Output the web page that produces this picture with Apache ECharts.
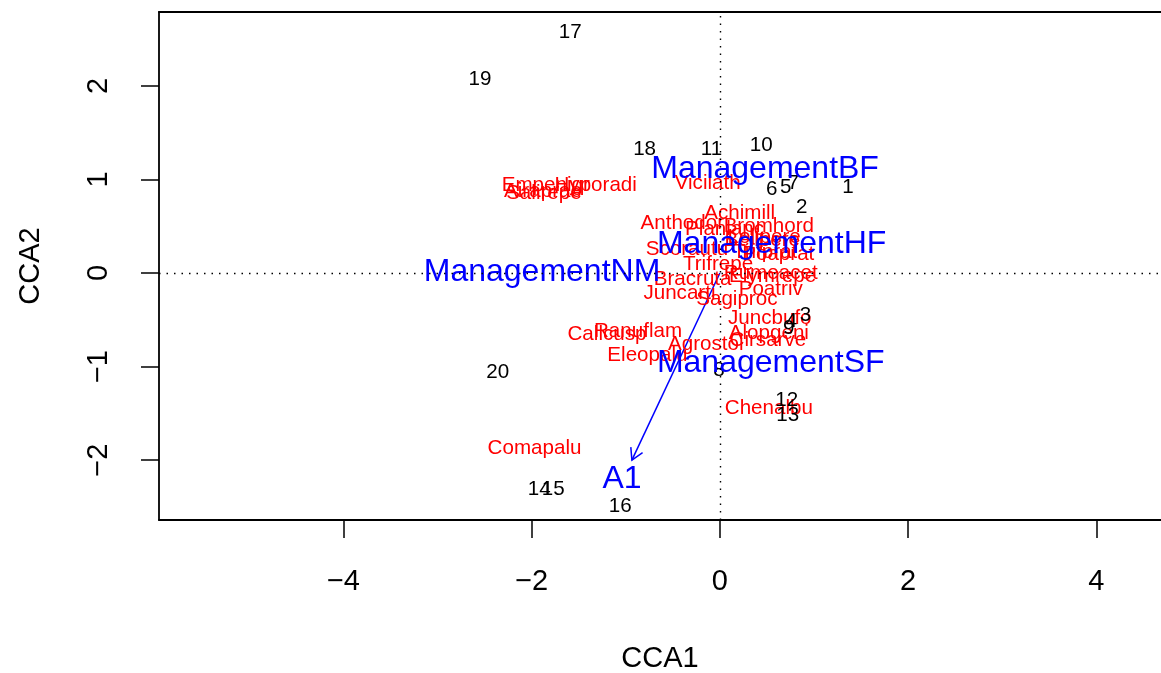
<!DOCTYPE html>
<html>
<head>
<meta charset="utf-8">
<script src="https://cdn.jsdelivr.net/npm/echarts@6/dist/echarts.min.js"></script>
<style>
  html, body { margin: 0; padding: 0; background: #ffffff; }
  #chart { width: 1161px; height: 673px; }
</style>
</head>
<body>
<div id="chart"></div>
<script>
// Site scores (weighted averages), CCA1 / CCA2
const siteNames = ['1','2','3','4','5','6','7','8','9','10','11','12','13','14','15','16','17','18','19','20'];
const siteX = [1.36, 0.87, 0.91, 0.76, 0.70, 0.55, 0.78, -0.01, 0.73, 0.44, -0.09, 0.71, 0.72, -1.92, -1.77, -1.06, -1.59, -0.80, -2.55, -2.36];
const siteY = [0.93, 0.72, -0.44, -0.50, 0.93, 0.91, 0.97, -1.02, -0.57, 1.38, 1.34, -1.34, -1.51, -2.30, -2.30, -2.48, 2.59, 1.34, 2.09, -1.04];

// Species scores
const speciesNames = ['Achimill','Agrostol','Airaprae','Alopgeni','Anthodor','Bellpere','Bromhord','Chenalbu','Cirsarve','Comapalu',
  'Eleopalu','Elymrepe','Empenigr','Hyporadi','Juncarti','Juncbufo','Lolipere','Planlanc','Poaprat','Poatriv',
  'Ranuflam','Rumeacet','Sagiproc','Salirepe','Scorautu','Trifprat','Trifrepe','Vicilath','Bracruta','Callcusp'];
const speciesX = [0.21, -0.15, -1.88, 0.52, -0.40, 0.45, 0.52, 0.52, 0.51, -1.97,
  -0.77, 0.56, -1.85, -1.32, -0.43, 0.53, 0.47, 0.05, 0.62, 0.54,
  -0.87, 0.54, 0.18, -1.87, -0.35, 0.48, -0.02, -0.13, -0.29, -1.20];
const speciesY = [0.65, -0.75, 0.89, -0.63, 0.55, 0.37, 0.51, -1.43, -0.70, -1.86,
  -0.86, -0.02, 0.95, 0.95, -0.20, -0.47, 0.40, 0.48, 0.22, -0.16,
  -0.61, 0.01, -0.27, 0.87, 0.27, 0.24, 0.11, 0.97, -0.05, -0.64];

// Factor centroids
const centroidNames = ['ManagementBF','ManagementHF','ManagementNM','ManagementSF'];
const centroidX = [0.48, 0.55, -1.89, 0.54];
const centroidY = [1.13, 0.32, 0.03, -0.95];

// Continuous constraint (biplot arrow) and its label
const arrowNames = ['A1'];
const arrowX = [-0.935];
const arrowY = [-2.00];
const arrowLabelX = [-1.04];
const arrowLabelY = [-2.19];

// Axis ticks
const xTicks = [-4, -2, 0, 2, 4];
const yTicks = [-2, -1, 0, 1, 2];

const FONT = 'Liberation Sans';
const minus = v => String(v).replace('-', '\u2212');
const X_MIN = -5.96, X_MAX = 4.687;
const Y_MIN = -2.64, Y_MAX = 2.79;
const frame = { show: true, onZero: false, lineStyle: { color: '#000', width: 1.8 } };

function textSeries(names, xs, ys, color, size) {
  return {
    type: 'scatter',
    symbolSize: 1,
    itemStyle: { color: 'rgba(0,0,0,0)', opacity: 1 },
    silent: true,
    emphasis: { disabled: true },
    label: {
      show: true,
      position: 'inside',
      offset: [0, 1.5],
      formatter: '{b}',
      color: color,
      opacity: 1,
      fontFamily: FONT,
      fontSize: size,
      textBorderWidth: 0
    },
    data: names.map((n, i) => ({ name: n, value: [xs[i], ys[i]] }))
  };
}

const chart = echarts.init(document.getElementById('chart'), null, { renderer: 'canvas' });

chart.setOption({
  animation: false,
  backgroundColor: '#ffffff',
  grid: { left: 159, top: 12, bottom: 153, right: 0, outerBoundsMode: 'none', containLabel: false },
  xAxis: [{
    type: 'value', min: X_MIN, max: X_MAX, position: 'bottom',
    name: 'CCA1', nameLocation: 'middle', nameGap: 124,
    nameTextStyle: { fontFamily: FONT, fontSize: 29, color: '#000' },
    axisLine: frame,
    splitLine: { show: false },
    axisTick: { show: true, length: 18, customValues: xTicks, lineStyle: { color: '#000', width: 1.5 } },
    axisLabel: { customValues: xTicks, formatter: minus, margin: 47, fontFamily: FONT, fontSize: 29, color: '#000' }
  }, {
    // top edge of the plot frame
    type: 'value', min: X_MIN, max: X_MAX, position: 'top',
    axisLine: frame, axisTick: { show: false }, axisLabel: { show: false }, splitLine: { show: false }
  }],
  yAxis: {
    type: 'value', min: Y_MIN, max: Y_MAX,
    name: 'CCA2', nameLocation: 'middle', nameGap: 114, nameRotate: 90,
    nameTextStyle: { fontFamily: FONT, fontSize: 29, color: '#000' },
    axisLine: frame,
    splitLine: { show: false },
    axisTick: { show: true, length: 18, customValues: yTicks, lineStyle: { color: '#000', width: 1.5 } },
    axisLabel: { customValues: yTicks, formatter: minus, rotate: 90, margin: 46, fontFamily: FONT, fontSize: 29, color: '#000' }
  },
  series: [
    // dotted zero lines
    {
      type: 'scatter', data: [], silent: true,
      markLine: {
        silent: true, symbol: ['none', 'none'], label: { show: false },
        lineStyle: { color: '#000', width: 1.4, type: [1.5, 6], opacity: 1 },
        data: [{ xAxis: 0 }, { yAxis: 0 }]
      }
    },
    textSeries(speciesNames, speciesX, speciesY, '#ff0000', 20.6),
    textSeries(siteNames, siteX, siteY, '#000000', 20.6),
    {
      type: 'custom',
      silent: true,
      renderItem: function (params, api) {
        const p0 = api.coord([0, 0]);
        const p1 = api.coord([api.value(0), api.value(1)]);
        const ang = Math.atan2(p1[1] - p0[1], p1[0] - p0[0]);
        const len = 13, spread = Math.PI / 6;
        const h1 = [p1[0] - len * Math.cos(ang - spread), p1[1] - len * Math.sin(ang - spread)];
        const h2 = [p1[0] - len * Math.cos(ang + spread), p1[1] - len * Math.sin(ang + spread)];
        const st = { stroke: '#0000ff', lineWidth: 1.5, fill: null };
        return {
          type: 'group',
          children: [
            { type: 'line', shape: { x1: p0[0], y1: p0[1], x2: p1[0], y2: p1[1] }, style: st },
            { type: 'polyline', shape: { points: [h1, p1, h2] }, style: st }
          ]
        };
      },
      data: arrowX.map((x, i) => [x, arrowY[i]])
    },
    textSeries(arrowNames, arrowLabelX, arrowLabelY, '#0000ff', 32),
    textSeries(centroidNames, centroidX, centroidY, '#0000ff', 32)
  ]
});
</script>
</body>
</html>
